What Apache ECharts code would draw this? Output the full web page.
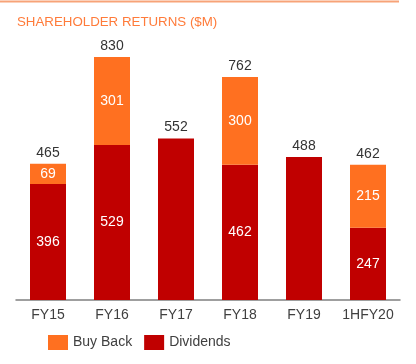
<!DOCTYPE html>
<html><head><meta charset="utf-8">
<script src="https://cdn.jsdelivr.net/npm/echarts@6/dist/echarts.min.js"></script>
<style>html,body{margin:0;padding:0;background:#fff}#c{width:416px;height:364px}</style>
</head><body><div id="c"></div>
<script>
var categories = ['FY15','FY16','FY17','FY18','FY19','1HFY20'];
var dividends = [396, 529, 552, 462, 488, 247];
var buyBack = [69, 301, null, 300, null, 215];
var totals = [465, 830, 552, 762, 488, 462];

var chart = echarts.init(document.getElementById('c'));
chart.setOption({
  animation: false,
  textStyle: {fontFamily: 'Liberation Sans, Arial, sans-serif'},
  title: {
    text: 'SHAREHOLDER RETURNS ($M)', left: 12, top: 11,
    textStyle: {fontSize: 13.3, fontWeight: 'normal', color: '#ff7b3a', fontFamily: 'Liberation Sans, Arial, sans-serif'}
  },
  graphic: [{type: 'line', shape: {x1: 0, y1: 1.5, x2: 399, y2: 1.5}, style: {stroke: '#f7a378', lineWidth: 2}}],
  legend: {
    data: ['Buy Back', 'Dividends'], left: 43, top: 330, itemWidth: 20, itemHeight: 15, itemGap: 12,
    icon: 'rect',
    textStyle: {fontSize: 14, color: '#404040'}
  },
  grid: {left: 16, right: 16, top: 36.5, bottom: 64, containLabel: false},
  xAxis: {
    type: 'category', data: categories,
    axisLine: {lineStyle: {color: '#808080', width: 1.5}},
    axisTick: {show: false},
    axisLabel: {fontSize: 14, color: '#404040', margin: 8, interval: 0}
  },
  yAxis: {type: 'value', min: 0, max: 900, show: false, splitLine: {show: false}},
  series: [
    {name: 'Dividends', type: 'bar', stack: 's', barWidth: 36,
     data: dividends.map(function(v, i){
       return {value: v, label: {show: buyBack[i] != null}};
     }),
     itemStyle: {color: '#c00000'},
     label: {show: true, position: 'inside', color: '#fff', fontSize: 14}},
    {name: 'Buy Back', type: 'bar', stack: 's', data: buyBack, barWidth: 36,
     itemStyle: {color: '#ff7020'},
     label: {show: true, position: 'inside', color: '#fff', fontSize: 14}},
    {name: 'Total', type: 'bar', stack: 's', data: totals.map(function(){return 0;}), barWidth: 36,
     itemStyle: {color: 'transparent'},
     label: {show: true, position: 'top', color: '#333', fontSize: 14, distance: 4,
       formatter: function(p){ return totals[p.dataIndex]; }}}
  ]
});
</script></body></html>
